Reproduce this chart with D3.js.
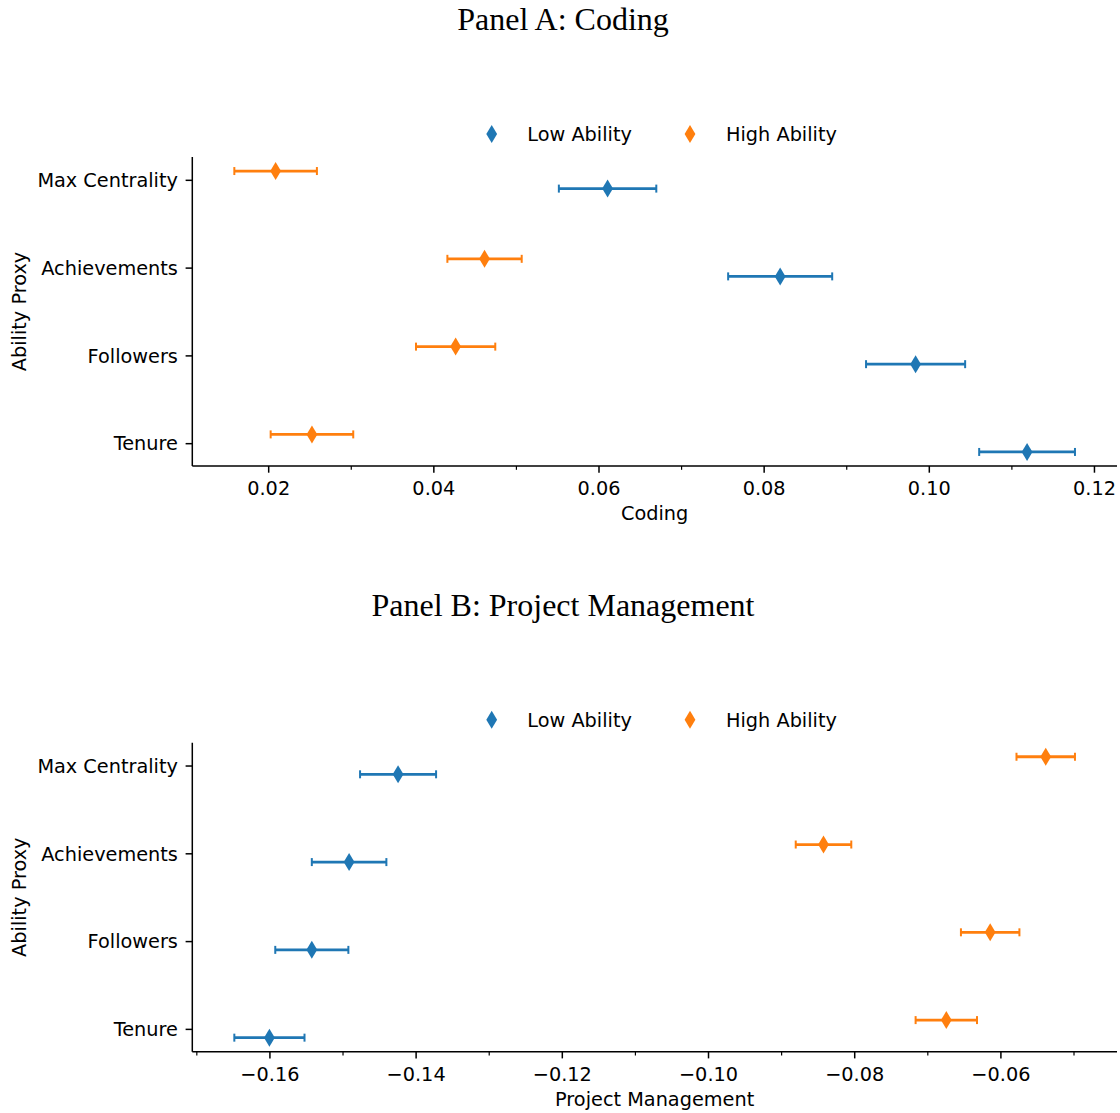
<!DOCTYPE html>
<html>
<head>
<meta charset="utf-8">
<script src="https://cdn.jsdelivr.net/npm/d3@7"></script>
<style>
  body { margin: 0; background: white; }
  text { font-family: 'DejaVu Sans', sans-serif; fill: black; }
  .title { font-family: 'Liberation Serif', 'Times New Roman', serif; }
</style>
</head>
<body>
<div id="container"></div>
<script>
/* CONSTANTS AND GLOBALS */
const width = 1120,
  height = 1113,
  margin = { left: 192.3, right: 3 },
  plotTop = 157,
  plotHeight = 309,
  panelOffset = 585.7,
  fontSize = 19.3

const blue = '#1f77b4'
const orange = '#ff7f0e'

/* DATA */
const categories = ['Max Centrality', 'Achievements', 'Followers', 'Tenure']

// Panel A: Coding
const codingLow = [0.0611, 0.0820, 0.0984, 0.1119]
const codingLowErr = [0.0059, 0.0063, 0.0060, 0.0058]
const codingHigh = [0.0209, 0.0462, 0.0427, 0.0253]
const codingHighErr = [0.0050, 0.0045, 0.0048, 0.0050]

// Panel B: Project Management
const pmLow = [-0.1424, -0.1491, -0.1542, -0.1600]
const pmLowErr = [0.0052, 0.0051, 0.0050, 0.0048]
const pmHigh = [-0.0538, -0.0842, -0.0614, -0.0674]
const pmHighErr = [0.0040, 0.0038, 0.0040, 0.0042]

const legendItems = [
  { color: blue, text: 'Low Ability', x: 491.7, tx: 527.3 },
  { color: orange, text: 'High Ability', x: 690, tx: 726 }
]

const diamond = 'M0,-9 L5.4,0 L0,9 L-5.4,0 Z'

const svg = d3.select('#container')
  .append('svg')
  .attr('width', width)
  .attr('height', height)

drawPanel(0, 'Panel A: Coding', 'Coding', codingLow, codingLowErr, codingHigh, codingHighErr)
drawPanel(panelOffset, 'Panel B: Project Management', 'Project Management', pmLow, pmLowErr, pmHigh, pmHighErr)

/* DRAW ONE PANEL */
function drawPanel(offset, title, xLabel, low, lowErr, high, highErr) {
  const g = svg.append('g').attr('transform', `translate(0, ${offset})`)

  const lowRows = low.map((v, i) => ({ cat: i, v: v, e: lowErr[i], shift: 0.1, color: blue }))
  const highRows = high.map((v, i) => ({ cat: i, v: v, e: highErr[i], shift: -0.1, color: orange }))
  const rows = lowRows.concat(highRows)

  // matplotlib style 5% margins around the data
  const lo = d3.min(rows, d => d.v - d.e)
  const hi = d3.max(rows, d => d.v + d.e)
  const pad = (hi - lo) * 0.05

  const xScale = d3.scaleLinear()
    .domain([lo - pad, hi + pad])
    .range([margin.left, width - margin.right])

  const yScale = d3.scaleLinear()
    .domain([-0.26, 3.26])
    .range([plotTop, plotTop + plotHeight])

  const bottom = plotTop + plotHeight

  // + TITLE
  g.append('text')
    .attr('class', 'title')
    .attr('x', 563)
    .attr('y', 30)
    .attr('text-anchor', 'middle')
    .style('font-size', '32px')
    .text(title)

  // + AXES
  const major = d3.range(Math.ceil(xScale.domain()[0] / 0.02 - 1e-9), Math.floor(xScale.domain()[1] / 0.02 + 1e-9) + 1)
    .map(k => +(k * 0.02).toFixed(2))
  const minor = d3.range(Math.ceil(xScale.domain()[0] / 0.01 - 1e-9), Math.floor(xScale.domain()[1] / 0.01 + 1e-9) + 1)
    .map(k => +(k * 0.01).toFixed(2))
    .filter(v => !major.some(m => Math.abs(m - v) < 1e-9))

  g.append('g')
    .attr('transform', `translate(0, ${bottom})`)
    .call(d3.axisBottom(xScale).tickValues(minor).tickSize(3.8).tickFormat(''))
    .call(a => a.select('.domain').remove())
    .call(a => a.selectAll('line').attr('stroke-width', 1.2))

  const xAxis = g.append('g')
    .attr('transform', `translate(0, ${bottom})`)
    .call(d3.axisBottom(xScale).tickValues(major).tickSize(6.7).tickFormat(d3.format('.2f')))
  xAxis.select('.domain').attr('d', `M${margin.left},0H${width - margin.right}`).attr('stroke-width', 1.5)
  xAxis.selectAll('line').attr('stroke-width', 1.5)
  xAxis.selectAll('text')
    .attr('y', 29)
    .attr('dy', null)
    .style('font-size', fontSize + 'px')
    .style('font-family', 'DejaVu Sans')

  const yAxis = g.append('g')
    .attr('transform', `translate(${margin.left}, 0)`)
    .call(d3.axisLeft(yScale).tickValues([0, 1, 2, 3]).tickSize(6.7).tickFormat(i => categories[i]))
  yAxis.select('.domain').attr('d', `M0,${plotTop}V${bottom}`).attr('stroke-width', 1.5)
  yAxis.selectAll('line').attr('stroke-width', 1.5)
  yAxis.selectAll('text')
    .attr('x', -14.4)
    .attr('dy', '0.35em')
    .style('font-size', fontSize + 'px')
    .style('font-family', 'DejaVu Sans')

  // + AXIS LABELS
  g.append('text')
    .attr('x', (margin.left + width - margin.right) / 2)
    .attr('y', 520)
    .attr('text-anchor', 'middle')
    .style('font-size', fontSize + 'px')
    .text(xLabel)

  g.append('text')
    .attr('transform', `translate(25.5, ${plotTop + plotHeight / 2}) rotate(-90)`)
    .attr('text-anchor', 'middle')
    .style('font-size', fontSize + 'px')
    .text('Ability Proxy')

  // + LEGEND
  const legend = g.append('g')
  legend.selectAll('path')
    .data(legendItems)
    .join('path')
    .attr('d', diamond)
    .attr('transform', d => `translate(${d.x}, 134)`)
    .attr('fill', d => d.color)
  legend.selectAll('text')
    .data(legendItems)
    .join('text')
    .attr('x', d => d.tx)
    .attr('y', 141)
    .style('font-size', fontSize + 'px')
    .text(d => d.text)

  // + ERROR BARS
  const bars = g.append('g')
    .selectAll('g.bar')
    .data(rows)
    .join('g')
    .attr('class', 'bar')

  bars.append('line')
    .attr('x1', d => xScale(d.v - d.e))
    .attr('x2', d => xScale(d.v + d.e))
    .attr('y1', d => yScale(d.cat + d.shift))
    .attr('y2', d => yScale(d.cat + d.shift))
    .attr('stroke', d => d.color)
    .attr('stroke-width', 2.8)

  bars.selectAll('line.cap')
    .data(d => [d.v - d.e, d.v + d.e].map(x => ({ x: x, y: d.cat + d.shift, color: d.color })))
    .join('line')
    .attr('class', 'cap')
    .attr('x1', d => xScale(d.x))
    .attr('x2', d => xScale(d.x))
    .attr('y1', d => yScale(d.y) - 4)
    .attr('y2', d => yScale(d.y) + 4)
    .attr('stroke', d => d.color)
    .attr('stroke-width', 2)

  // + MARKERS
  bars.append('path')
    .attr('d', diamond)
    .attr('transform', d => `translate(${xScale(d.v)}, ${yScale(d.cat + d.shift)})`)
    .attr('fill', d => d.color)
}
</script>
</body>
</html>
